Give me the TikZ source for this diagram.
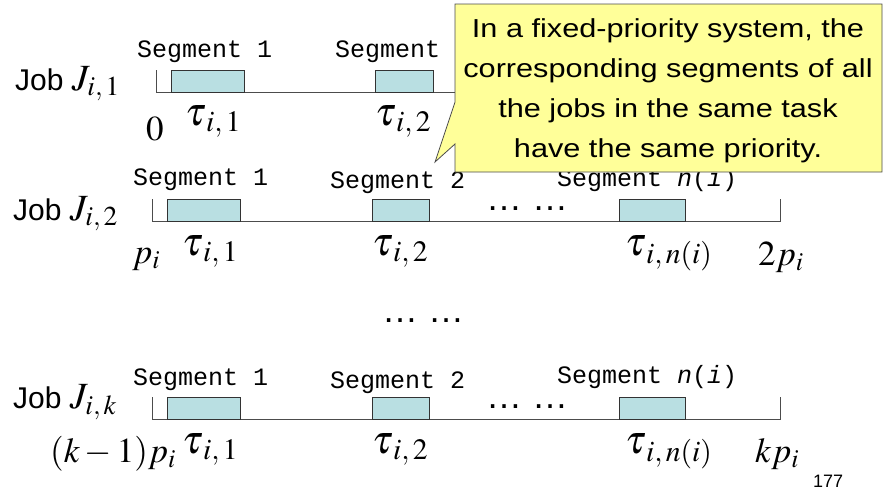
\documentclass[tikz,border=0pt]{standalone}
\usepackage{mathptmx}
\usepackage[no-math]{fontspec}
\setmainfont{Liberation Sans}
\setmonofont{Liberation Mono}
\usetikzlibrary{positioning}
\definecolor{segblue}{RGB}{185,223,226}
\definecolor{notefill}{RGB}{255,255,153}
\begin{document}
\begin{tikzpicture}[x=1pt, y=-1pt,
  axisline/.style={draw=black!70, line width=0.9pt},
  segbox/.style={draw=black!80, fill=segblue, line width=0.8pt, inner sep=0pt,
                 outer sep=0pt, anchor=south west, minimum height=22pt},
  seglab/.style={font=\fontsize{25}{26}\selectfont\ttfamily, anchor=base west, inner sep=0pt},
  joblab/.style={font=\fontsize{30}{30}\selectfont, anchor=base west, inner sep=0pt},
  tlab/.style={font=\fontsize{40}{40}\selectfont, anchor=base west, inner sep=0pt},
  plab/.style={font=\fontsize{35}{40}\selectfont, anchor=base west, inner sep=0pt},
  dotlab/.style={font=\fontsize{36}{40}\selectfont, anchor=base west, inner sep=0pt},
  note/.style={draw=black!70, fill=notefill, line width=0.8pt}
]
\useasboundingbox (0,0) rectangle (883,490);
% ----- job 1 -----
\coordinate (r1s) at (156,92);
\coordinate (r1e) at (784,92);
\draw[axisline] ([yshift=22pt]r1s) -- (r1s) -- (r1e) -- ([yshift=22pt]r1e);
\node[segbox, minimum width=73pt] (b11) at (171,92) {};
\node[segbox, minimum width=58pt] (b12) at (375,92) {};
\node[seglab] (g11) at (137,57) {Segment 1};
\node[seglab] (g12) at (335,57) {Segment};
\node[joblab] (job1) at (15,90) {Job {\fontsize{37}{37}\selectfont$J_{i,\,1}$}};
\node[tlab] (t11) at (185,125) {$\tau_{\,i,\,1}$};
\node[tlab] (t12) at (375,125) {$\tau_{\,i,\,2}$};
\node[plab] (p1) at (146,140) {$0$};
% ----- job 2 -----
\coordinate (r2s) at (152,221);
\coordinate (r2e) at (780,221);
\draw[axisline] ([yshift=22pt]r2s) -- (r2s) -- (r2e) -- ([yshift=22pt]r2e);
\node[segbox, minimum width=73pt] (b21) at (167,221) {};
\node[segbox, minimum width=57pt] (b22) at (372,221) {};
\node[segbox, minimum width=66pt] (b23) at (619,221) {};
\node[seglab] (g21) at (133,185) {Segment 1};
\node[seglab] (g22) at (330,188) {Segment 2};
\node[seglab] (g23) at (557,186) {Segment \textit{n}(\textit{i})};
\node[dotlab] (d2) at (486,210) {… …};
\node[joblab] (job2) at (13,220) {Job {\fontsize{37}{37}\selectfont$J_{i,\,2}$}};
\node[tlab] (t21) at (182,255) {$\tau_{\,i,\,1}$};
\node[tlab] (t22) at (372,255) {$\tau_{\,i,\,2}$};
\node[tlab] (t23) at (625,255) {$\tau_{\,i,\,n(i)}$};
\node[plab] (p2a) at (132,263) {$p_i$};
\node[plab] (p2b) at (758,265) {$2p_i$};
% ----- more jobs -----
\node[dotlab] (dmid) at (382,322) {… …};
% ----- job k -----
\coordinate (rks) at (152,419);
\coordinate (rke) at (780,419);
\draw[axisline] ([yshift=22pt]rks) -- (rks) -- (rke) -- ([yshift=22pt]rke);
\node[segbox, minimum width=73pt] (bk1) at (167,419) {};
\node[segbox, minimum width=57pt] (bk2) at (372,419) {};
\node[segbox, minimum width=66pt] (bk3) at (619,419) {};
\node[seglab] (gk1) at (133,385) {Segment 1};
\node[seglab] (gk2) at (330,388) {Segment 2};
\node[seglab] (gk3) at (557,383) {Segment \textit{n}(\textit{i})};
\node[dotlab] (dk) at (486,408) {… …};
\node[joblab] (jobk) at (13,408) {Job {\fontsize{37}{37}\selectfont$J_{i,\,k}$}};
\node[tlab] (tk1) at (182,453) {$\tau_{\,i,\,1}$};
\node[tlab] (tk2) at (372,453) {$\tau_{\,i,\,2}$};
\node[tlab] (tk3) at (625,453) {$\tau_{\,i,\,n(i)}$};
\node[plab] (pka) at (50,462) {$(k-1)p_i$};
\node[plab] (pkb) at (755,462) {$kp_i$};
\node[font=\fontsize{18}{20}\selectfont, anchor=base west, inner sep=0pt] (pg) at (813,487) {177};
% ----- callout -----
\draw[note] (455,4) -- (882,4) -- (882,172) -- (455,172) -- (455,144) -- (435,162)
  -- (455,102) -- cycle;
\node[font=\fontsize{26}{40}\selectfont, align=center, inner sep=0pt,
      xscale=1.18, transform shape] (txt) at (668,91)
  {In a fixed-priority system, the\\corresponding segments of all\\the jobs in the same task\\have the same priority.};
\end{tikzpicture}
\end{document}
